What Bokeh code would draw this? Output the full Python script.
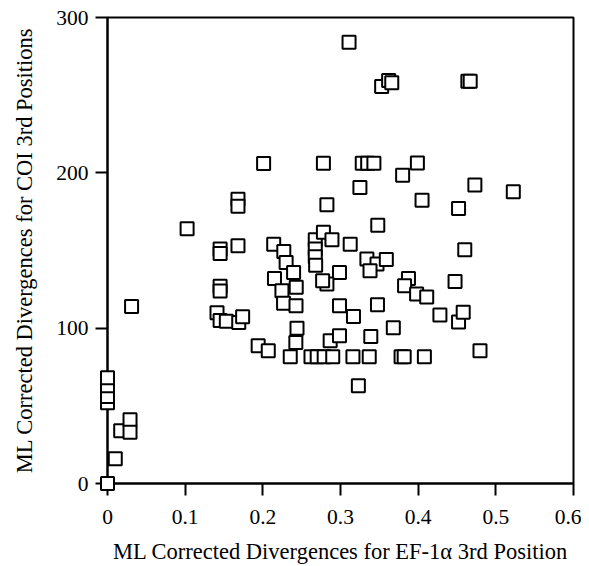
from bokeh.plotting import figure
from bokeh.models import FixedTicker, NumeralTickFormatter, Range1d
from bokeh.embed import file_html
from bokeh.resources import INLINE

x_label = "ML Corrected Divergences for EF-1\u03b1 3rd Position"
y_label = "ML Corrected Divergences for COI 3rd Positions"
x_ticks = [0, 0.1, 0.2, 0.3, 0.4, 0.5, 0.6]
y_ticks = [0, 100, 200, 300]

# EF-1alpha 3rd position divergence (x) vs COI 3rd position divergence (y)
ef1a = [
    0.0, 0.010, 0.017, 0.029, 0.029, 0.0, 0.0, 0.0, 0.0, 0.031,
    0.1025, 0.145, 0.145, 0.145, 0.145, 0.141, 0.145, 0.153, 0.169, 0.174,
    0.168, 0.168, 0.168, 0.201, 0.194, 0.207, 0.2353,
    0.214, 0.227, 0.230, 0.2396, 0.215, 0.2246, 0.2267, 0.243, 0.2427, 0.244, 0.2425,
    0.262, 0.270, 0.279, 0.290, 0.316, 0.337, 0.378, 0.382, 0.408,
    0.323, 0.2867, 0.2987, 0.3167, 0.2987, 0.3476, 0.339, 0.368,
    0.2675, 0.2675, 0.2675, 0.268, 0.278, 0.289, 0.3125, 0.334, 0.347, 0.359, 0.338,
    0.2987, 0.2825, 0.277, 0.3875, 0.3825, 0.398, 0.411,
    0.428, 0.452, 0.458, 0.4796, 0.4475, 0.460,
    0.2825, 0.325, 0.348, 0.380, 0.405, 0.452, 0.473, 0.5225,
    0.278, 0.328, 0.335, 0.343, 0.399,
    0.311, 0.353, 0.362, 0.366, 0.464, 0.467,
]
coi = [
    0, 16, 34, 41, 33, 52, 56, 63, 68, 114,
    164, 151, 148, 127, 124, 110, 105, 104.5, 103.7, 107.3,
    153, 183, 178.5, 206, 88.7, 85.4, 81.6,
    154.1, 149.4, 142.3, 135.8, 132, 124.1, 116, 126.4, 114.4, 100, 90.8,
    81.6, 81.6, 81.6, 81.6, 81.6, 81.6, 81.6, 81.6, 81.6,
    63, 91.9, 95.1, 107.5, 114.4, 115, 94.7, 100.2,
    157, 151, 146, 140.5, 161.8, 157, 154, 144.5, 141.3, 144.2, 137,
    135.8, 128.4, 130.5, 132, 127.3, 122, 120,
    108.4, 104, 110.3, 85.4, 130, 150.5,
    179.4, 190.6, 166.2, 198.5, 182.4, 177, 192.1, 187.8,
    206.2, 206.2, 206.2, 206.2, 206.3,
    284, 255.5, 259.5, 258, 259, 259,
]

FONT = "Liberation Serif"

p = figure(
    width=581, height=566,
    x_range=Range1d(0, 0.6), y_range=Range1d(0, 300),
    output_backend="svg", toolbar_location=None,
    min_border_left=107, min_border_right=8, min_border_top=17, min_border_bottom=83,
)
p.xgrid.visible = False
p.ygrid.visible = False
p.outline_line_color = "black"
p.outline_line_width = 2
p.outline_line_alpha = 1.0

p.scatter(ef1a, coi, marker="square", size=13, fill_color="white",
          line_color="black", line_width=2, level="overlay")

for ax in (p.xaxis[0], p.yaxis[0]):
    ax.axis_line_width = 2
    ax.axis_line_color = "black"
    ax.major_tick_line_width = 2
    ax.major_tick_line_color = "black"
    ax.major_tick_out = 12
    ax.major_tick_in = 0
    ax.minor_tick_out = 0
    ax.minor_tick_in = 0
    ax.major_label_text_font = FONT
    ax.major_label_text_font_size = "21.5px"
    ax.major_label_text_color = "black"
    ax.axis_label_text_font = FONT
    ax.axis_label_text_font_size = "22.5px"
    ax.axis_label_text_font_style = "normal"
    ax.axis_label_text_color = "black"

p.xaxis.ticker = FixedTicker(ticks=x_ticks)
p.yaxis.ticker = FixedTicker(ticks=y_ticks)
p.xaxis.formatter = NumeralTickFormatter(format="0.[0]")
p.xaxis.axis_label = x_label
p.yaxis.axis_label = y_label
p.xaxis.major_label_standoff = 14
p.xaxis.axis_label_standoff = 12
p.yaxis.major_label_standoff = 7
p.yaxis.axis_label_standoff = 16

open("out.html", "w").write(file_html(p, INLINE))
